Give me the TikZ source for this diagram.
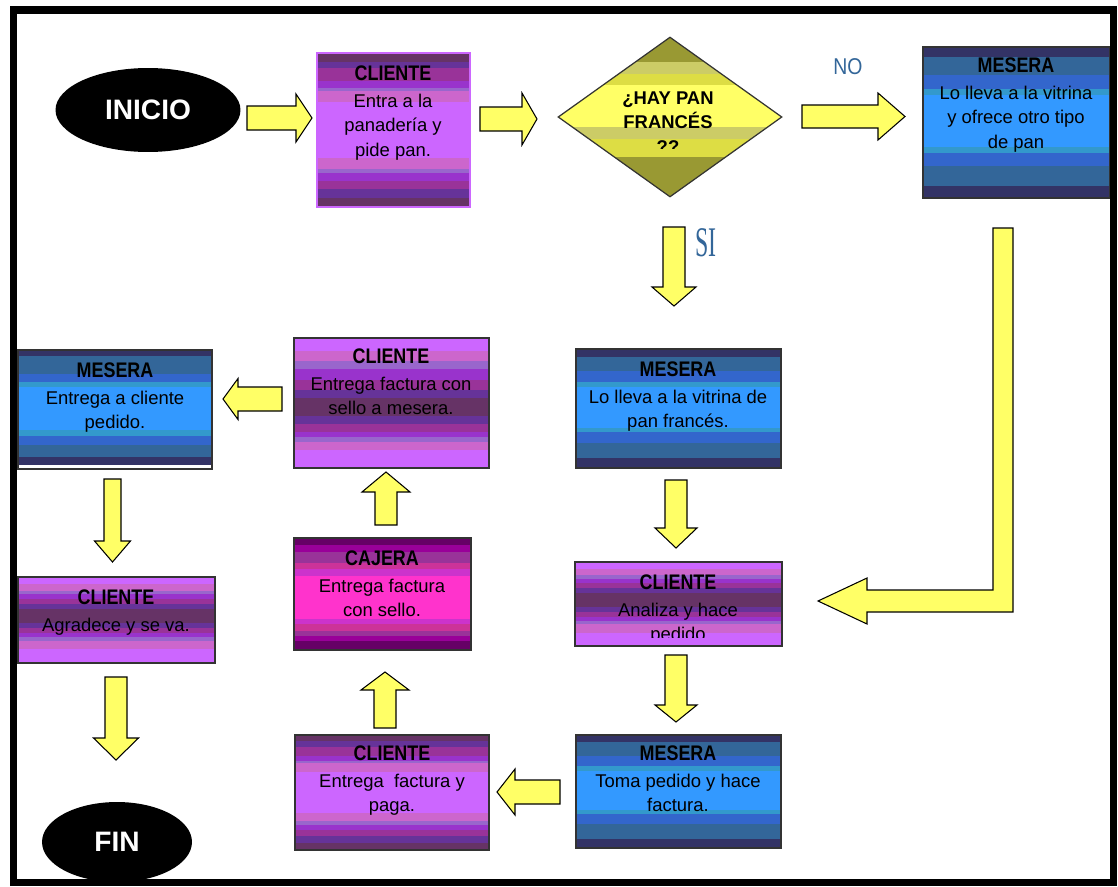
\documentclass[tikz,border=0pt]{standalone}
\usepackage{fontspec}
\setmainfont{Liberation Sans}
\newfontfamily\headfont{Liberation Sans}[FakeStretch=0.85]
\newfontfamily\serifnar{Liberation Serif}
\usetikzlibrary{shapes.geometric,calc,fit}

\definecolor{pA1}{HTML}{663366}
\definecolor{pA2}{HTML}{663399}
\definecolor{pA3}{HTML}{993399}
\definecolor{pA4}{HTML}{9933CC}
\definecolor{pA5}{HTML}{9966CC}
\definecolor{pA6}{HTML}{CC66CC}
\definecolor{pC}{HTML}{CC66FF}
\definecolor{b1}{HTML}{333366}
\definecolor{b2}{HTML}{336699}
\definecolor{b3}{HTML}{3366CC}
\definecolor{b4}{HTML}{3399CC}
\definecolor{bC}{HTML}{3399FF}
\definecolor{m1}{HTML}{660066}
\definecolor{m2}{HTML}{990099}
\definecolor{m3}{HTML}{993399}
\definecolor{m4}{HTML}{CC3399}
\definecolor{m5}{HTML}{CC33CC}
\definecolor{mC}{HTML}{FF33CC}
\definecolor{d1}{HTML}{999933}
\definecolor{d2}{HTML}{CCCC66}
\definecolor{d3}{HTML}{DDDD44}
\definecolor{dC}{HTML}{FFFF66}
\definecolor{yel}{HTML}{FFFF66}
\definecolor{boxline}{HTML}{333333}
\definecolor{noblue}{HTML}{336699}

\newcommand\bandfill[1]{\foreach \bc/\ba in {#1}{\fill[\bc] ($(path picture bounding box.north west)!\ba!(path picture bounding box.south west)$) rectangle (path picture bounding box.south east);}}
\newcommand\hd[1]{{\fontsize{12}{14}\selectfont\headfont\bfseries #1}}
% horizontal block arrow: tail x, head base x, tip x, centre y, shaft half, head half
\newcommand\harrow[6]{\draw[barrow] (#1,#4-#5) -- (#2,#4-#5) -- (#2,#4-#6) -- (#3,#4) -- (#2,#4+#6) -- (#2,#4+#5) -- (#1,#4+#5) -- cycle;}
% vertical block arrow: tail y, head base y, tip y, centre x, shaft half, head half
\newcommand\varrow[6]{\draw[barrow] (#4-#5,#1) -- (#4-#5,#2) -- (#4-#6,#2) -- (#4,#3) -- (#4+#6,#2) -- (#4+#5,#2) -- (#4+#5,#1) -- cycle;}

\tikzset{
 box/.style={rectangle, draw=boxline, line width=0.6pt, inner sep=0pt},
 cliN/.style={path picture={\bandfill{pA1/0,pA2/.056,pA3/.10,pA4/.18,pA5/.225,pA6/.245,pC/.32,pA6/.68,pA5/.75,pA4/.78,pA3/.83,pA2/.88,pA1/.94}}},
 cliI/.style={path picture={\bandfill{pC/0,pA6/.08,pA5/.16,pA4/.20,pA3/.25,pA2/.31,pA1/.37,pA2/.53,pA3/.59,pA4/.65,pA5/.70,pA6/.74,pC/.84}}},
 cliJ/.style={path picture={\bandfill{pC/0,pA6/.1,pA5/.18,pA4/.24,pA3/.32,pA2/.4,pA1/.46,pA2/.6,pA3/.66,pA4/.72,pA5/.76,pA6/.8,pC/.86}}},
 mes/.style={path picture={\bandfill{b1/0,b2/.066,b3/.187,b4/.275,bC/.32,b4/.66,b3/.70,b2/.79,b1/.92}}},
 mesW/.style={path picture={\bandfill{b1/0,b2/.05,b3/.2,b4/.27,bC/.31,b4/.67,b3/.72,b2/.8,b1/.9,white/.965}}},
 caj/.style={path picture={\bandfill{m1/0,m2/.06,m3/.125,m4/.22,m5/.28,mC/.34,m5/.72,m4/.77,m3/.83,m2/.875,m1/.92}}},
 dia/.style={path picture={\bandfill{d1/0,d2/.156,d3/.23,dC/.30,d2/.56,d3/.64,d1/.75}}},
 txt/.style={align=center, inner sep=0pt, anchor=north, text=black, font=\fontsize{10.5}{14}\selectfont},
 barrow/.style={fill=yel, draw=black, line width=0.6pt, line join=miter},
 term/.style={ellipse, fill=black, inner sep=0pt, text=white, font=\fontsize{16}{18}\selectfont\bfseries},
}

\begin{document}
\begin{tikzpicture}[x=0.02cm,y=-0.02cm]
\useasboundingbox (0,0) rectangle (1118,886);
\fill[white] (0,0) rectangle (1118,886);

% terminals
\node[term, minimum width=3.7cm, minimum height=1.68cm] (inicio) at (148,110) {INICIO};
\node[term, minimum width=3.0cm, minimum height=1.6cm] (fin) at (117,842) {FIN};

% boxes
\node[box, cliN, draw=pC, line width=1.2pt, fit={(317,53)(470,207)}] (c1) {};
\node[box, mes, fit={(923,47)(1110,198)}] (m1) {};
\node[box, mes, fit={(576,349)(781,468)}] (m2) {};
\node[box, cliI, fit={(575,562)(782,646)}] (c2) {};
\node[box, mes, fit={(576,735)(781,848)}] (m3) {};
\node[box, cliN, fit={(295,735)(489,850)}] (c3) {};
\node[box, caj, fit={(294,538)(471,650)}] (cj) {};
\node[box, cliJ, fit={(294,338)(489,468)}] (c4) {};
\node[box, mesW, fit={(18,350)(212,469)}] (m4) {};
\node[box, cliI, fit={(18,577)(215,663)}] (c5) {};

% decision
\node[diamond, aspect=1.4, draw=boxline, line width=0.7pt, dia, minimum width=4.48cm, minimum height=3.2cm, inner sep=0pt] (dec) at (670,117) {};
\begin{scope}
\clip (560,60) rectangle (780,148.5);
\node[txt, font=\fontsize{10.5}{14.2}\selectfont\bfseries] (dect) at (668,91) {¿HAY PAN\\FRANCÉS\\??};
\end{scope}

% texts
\node[txt] (c1t) at (393,65) {\hd{CLIENTE}\\[1.5pt]Entra a la\\panadería y\\pide pan.};
\node[txt] (m1t) at (1016,57) {\hd{MESERA}\\[1.5pt]Lo lleva a la vitrina\\y ofrece otro tipo\\de pan};
\node[txt] (m2t) at (678,361) {\hd{MESERA}\\[1.5pt]Lo lleva a la vitrina de\\pan francés.};
\begin{scope}
\clip (576,560) rectangle (781,637);
\node[txt] (c2t) at (678,574) {\hd{CLIENTE}\\[1.5pt]Analiza y hace\\pedido};
\end{scope}
\node[txt] (m3t) at (678,745) {\hd{MESERA}\\[1.5pt]Toma pedido y hace\\factura.};
\node[txt] (c3t) at (392,745) {\hd{CLIENTE}\\[1.5pt]Entrega~ factura y\\paga.};
\node[txt] (cjt) at (382,550) {\hd{CAJERA}\\[1.5pt]Entrega factura\\con sello.};
\node[txt] (c4t) at (391,348) {\hd{CLIENTE}\\[1.5pt]Entrega factura con\\sello a mesera.};
\node[txt] (m4t) at (115,362) {\hd{MESERA}\\[1.5pt]Entrega a cliente\\pedido.};
\node[txt] (c5t) at (116,589) {\hd{CLIENTE}\\[1.5pt]Agradece y se va.};

% labels
\node[text=noblue, inner sep=0pt, font=\fontsize{13}{15}\selectfont] (no) at (848,67) {\scalebox{0.85}[1]{NO}};
\node[text=noblue, inner sep=0pt, font=\serifnar\fontsize{16}{18}\selectfont] (si) at (706,243) {\scalebox{0.85}[1.5]{SI}};

% block arrows
\harrow{247}{296}{312}{118}{12}{24}
\harrow{480}{522}{537}{119}{12}{26}
\harrow{802}{878}{905}{116.5}{11.5}{23.5}
\varrow{227}{287}{306}{674}{11}{22}
\draw[barrow] (993,228) -- (1013,228) -- (1013,612) -- (867,612) -- (867,624) -- (818,601) -- (867,578) -- (867,590) -- (993,590) -- cycle;
\varrow{480}{528}{548}{676}{11}{21}
\varrow{655}{705}{722}{676}{11}{21}
\harrow{560}{515}{497}{792}{12}{23}
\varrow{728}{690}{672}{385}{11}{24}
\varrow{525}{492}{472}{386}{11}{24}
\harrow{282}{238}{223}{399}{12}{20.5}
\varrow{479}{541}{562}{112.5}{8.5}{18}
\varrow{677}{738}{760}{116}{11}{22.5}

% frame
\draw[line width=0.15cm] (13.5,10) rectangle (1113.5,882.5);
\end{tikzpicture}
\end{document}
